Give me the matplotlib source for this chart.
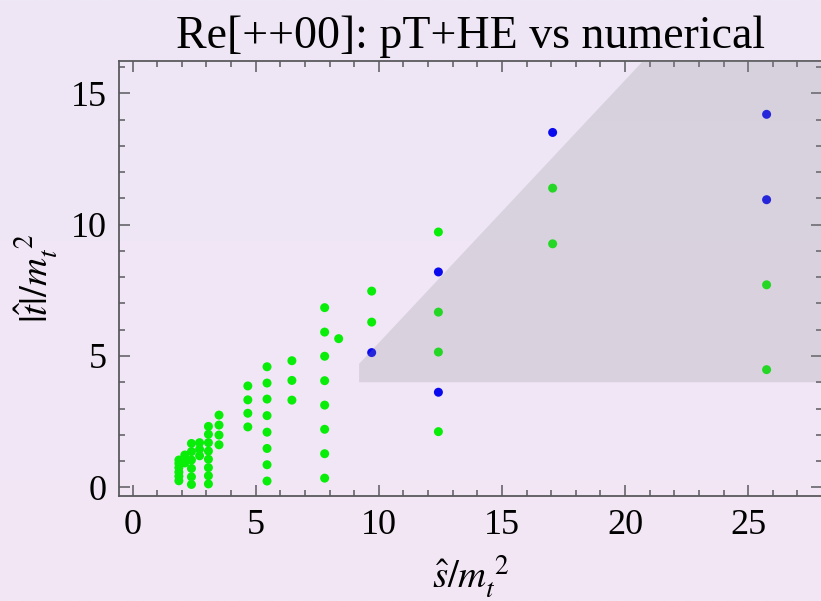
#!/usr/bin/env python3
"""
Scatter of (s/mt^2, |t|/mt^2) phase-space points, coloured by whether the
pT+HE expansion agrees with the numerical result, with the HE-valid region shaded.
"""

import numpy as np
import matplotlib.pyplot as plt

# agreeing points (green): s/mt^2 column -> list of |t|/mt^2 values
green_cols = {
    1.88: [0.25, 0.42, 0.58, 0.75, 0.91, 1.04],
    2.12: [0.93, 1.08, 1.23],
    2.39: [0.11, 0.40, 0.72, 1.04, 1.36, 1.67],
    2.72: [1.20, 1.45, 1.70],
    3.08: [0.13, 0.44, 0.75, 1.07, 1.38, 1.70, 2.02, 2.32],
    3.51: [1.62, 1.99, 2.37, 2.75],
    4.68: [2.30, 2.82, 3.33, 3.86],
    5.46: [0.24, 0.86, 1.48, 2.10, 2.73, 3.36, 3.97, 4.59],
    6.47: [3.32, 4.07, 4.82],
    7.80: [0.35, 1.28, 2.21, 3.13, 4.06, 4.99, 5.91, 6.84],
    8.37: [5.66],
    9.71: [6.29, 7.47],
    12.42: [2.12, 5.15, 6.67, 9.72],
    17.06: [9.27, 11.39],
    25.75: [4.48, 7.71],
}

# disagreeing points (blue)
blue_cols = {
    9.71: [5.13],
    12.42: [3.62, 8.20],
    17.06: [13.51],
    25.75: [10.95, 14.20],
}

# shaded region: |t| >= t_min, s >= s_min, |t| <= s - u_offset
s_min = 9.2
t_min = 4.0
u_offset = 4.5


def flatten(cols):
    xs, ys = [], []
    for s, ts in cols.items():
        xs.extend([s] * len(ts))
        ys.extend(ts)
    return np.array(xs), np.array(ys)


green_s, green_t = flatten(green_cols)
blue_s, blue_t = flatten(blue_cols)

plt.rcParams['mathtext.fontset'] = 'stix'
serif = ['Liberation Serif', 'DejaVu Serif']

fig = plt.figure(figsize=(8.21, 6.01), dpi=100)

# soft lavender background
bg = fig.add_axes([0, 0, 1, 1], zorder=-10)
top = np.array([238, 231, 246]) / 255
bot = np.array([243, 230, 245]) / 255
grad = np.linspace(0, 1, 256)[:, None, None]
bg.imshow(top * (1 - grad) + bot * grad, aspect='auto', extent=[0, 1, 0, 1])
bg.axis('off')

ax = fig.add_axes([119.3 / 821, 1 - 496 / 601, (822 - 119.3) / 821, (496 - 61) / 601])
ax.set_facecolor('none')

x0, x1 = -0.54, 27.95
y0, y1 = -0.33, 16.23
ax.set_xlim(x0, x1)
ax.set_ylim(y0, y1)

ax.scatter(green_s, green_t, s=42, color='#08ee08', edgecolors='none', zorder=3)
ax.scatter(blue_s, blue_t, s=42, color='#0a0aee', edgecolors='none', zorder=3)

# region where the high-energy expansion applies
xs = np.linspace(s_min, 40, 400)
upper = np.minimum(xs - u_offset, 40)
ax.fill_between(xs, t_min, upper, where=upper > t_min, color='#88888f',
                alpha=0.22, linewidth=0, zorder=4)

spine_col = '#5a5a5e'
for sp in ax.spines.values():
    sp.set_color(spine_col)
    sp.set_linewidth(1.3)

ax.set_xticks(np.arange(0, 30, 5))
ax.set_yticks(np.arange(0, 20, 5))
ax.set_xticks(np.arange(0, 29, 1), minor=True)
ax.set_yticks(np.arange(0, 17, 1), minor=True)
ax.tick_params(which='both', direction='in', top=True, right=True,
               color=spine_col, width=1.1)
ax.tick_params(which='major', length=8, labelsize=26, pad=9)
ax.tick_params(which='minor', length=4.5)
for lab in ax.get_xticklabels() + ax.get_yticklabels():
    lab.set_family(serif)

ax.set_title('Re[++00]: pT+HE vs numerical', family=serif, fontsize=33, pad=9)
ax.set_xlabel(r'$\hat{s}/m_t^{\ 2}$', fontsize=28, labelpad=8)
ax.set_ylabel(r'$|\hat{t}|/m_t^{\ 2}$', fontsize=28, labelpad=8)

fig.savefig('out.png', dpi=100)
